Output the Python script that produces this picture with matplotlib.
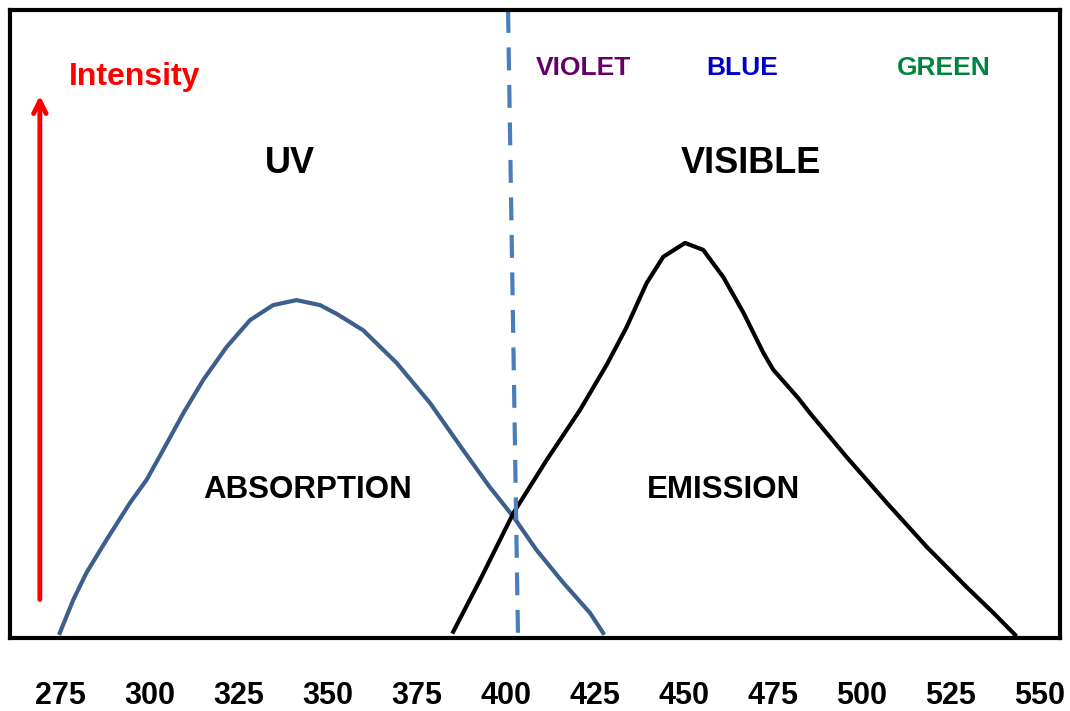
import matplotlib.pyplot as plt

plt.rcParams['font.family'] = ['Liberation Sans', 'DejaVu Sans']
plt.rcParams['font.weight'] = 'bold'

# wavelength (nm) / intensity (arbitrary, 0-100)
abs_wl = [274.7, 278.5, 282.2, 287.8, 294.4, 299.1, 303.7, 309.4, 315.0, 321.5,
          328.1, 334.6, 341.2, 347.8, 352.5, 359.9, 369.3, 378.7, 388.0, 395.5,
          402.1, 408.6, 416.1, 423.6, 427.3]
abs_int = [0.8, 6.1, 10.4, 15.6, 21.5, 25.2, 29.9, 35.8, 41.1, 46.3,
           50.6, 53.0, 53.8, 53.0, 51.6, 49.0, 43.8, 37.4, 29.9, 24.0,
           19.3, 14.0, 8.8, 4.0, 0.8]

em_wl = [385.2, 392.7, 402.1, 411.4, 420.8, 428.3, 433.9, 439.5, 444.2, 450.3,
         455.4, 461.0, 466.7, 472.3, 475.1, 482.1, 485.4, 495.7, 507.0, 518.2,
         529.4, 536.9, 543.0]
em_int = [1.0, 9.2, 19.9, 28.3, 36.3, 43.5, 49.5, 56.5, 60.7, 62.9,
          61.8, 57.5, 51.8, 45.4, 42.7, 38.2, 35.8, 28.8, 21.5, 14.5,
          8.1, 4.0, 0.5]

ticks = [275, 300, 325, 350, 375, 400, 425, 450, 475, 500, 525, 550]
cutoff_wl = [400.6, 403.4]

fig = plt.figure(figsize=(10.7, 7.11), dpi=100)
ax = fig.add_axes([0.0093, 0.1027, 0.9813, 0.8833])
ax.set_xlim(260.7, 555.6)
ax.set_ylim(0, 100)

ax.plot(abs_wl, abs_int, color='#3d5f8c', lw=3, solid_joinstyle='round')
ax.plot(em_wl, em_int, color='black', lw=3, solid_joinstyle='round')
ax.plot(cutoff_wl, [100, 0], color='#4a7ebb', lw=3, dashes=(5.5, 3.5))

ax.annotate('', xy=(269.1, 86.8), xytext=(269.1, 5.7),
            arrowprops=dict(arrowstyle='->,head_length=0.9,head_width=0.45',
                            color='red', lw=3.5))

ax.text(295.8, 89.3, 'Intensity', color='red', fontsize=23, ha='center', va='center')
ax.text(339.3, 75.6, 'UV', fontsize=26, ha='center', va='center')
ax.text(468.8, 75.6, 'VISIBLE', fontsize=26, ha='center', va='center')
ax.text(421.9, 90.8, 'VIOLET', color='#660066', fontsize=19, ha='center', va='center')
ax.text(466.3, 90.8, 'BLUE', color='#0000cc', fontsize=19, ha='center', va='center')
ax.text(523.0, 90.8, 'GREEN', color='#00843d', fontsize=19, ha='center', va='center')
ax.text(344.4, 23.6, 'ABSORPTION', fontsize=22.5, ha='center', va='center')
ax.text(461.2, 23.6, 'EMISSION', fontsize=22.5, ha='center', va='center')

ax.set_xticks(ticks)
ax.set_xticklabels([str(t) for t in ticks], fontsize=22, fontweight='bold')
ax.tick_params(axis='x', length=0, pad=31)
ax.set_yticks([])
for s in ax.spines.values():
    s.set_linewidth(3)

plt.savefig('out.png')
